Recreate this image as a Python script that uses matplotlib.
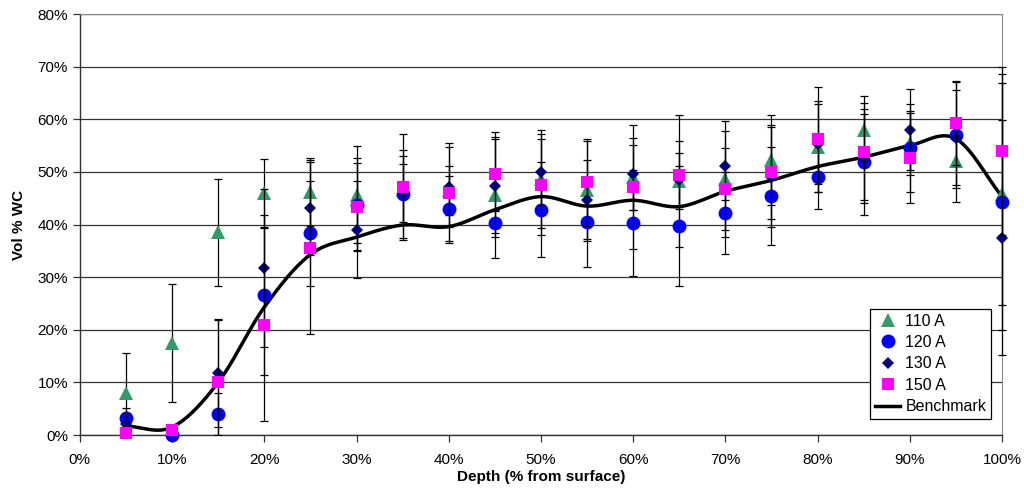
import numpy as np
import matplotlib
matplotlib.use("Agg")
import matplotlib.pyplot as plt
from matplotlib.patches import Rectangle
from matplotlib.ticker import FuncFormatter

plt.rcParams['font.family'] = ['Liberation Sans', 'DejaVu Sans']

# 深度（% from surface）
depth = [5, 10, 15, 20, 25, 30, 35, 40, 45, 50, 55, 60, 65, 70, 75, 80, 85, 90, 95, 100]

# 各电流下的 WC 体积分数及误差
wc_110 = [8.0, 17.5, 38.5, 46.0, 46.2, 45.7, 46.5, 46.5, 45.6, 48.7, 46.5, 49.0, 48.3, 48.6, 52.3, 54.8, 58.0, 55.5, 52.0, 45.8]
err_110 = [7.5, 11.2, 10.2, 6.4, 6.4, 9.3, 6.6, 4.7, 12.0, 9.3, 9.3, 6.2, 12.6, 11.0, 8.5, 8.7, 6.5, 6.1, 7.8, 21.0]

wc_120 = [3.2, 0.0, 4.0, 26.7, 38.3, 43.8, 45.8, 43.0, 40.2, 42.8, 40.5, 40.3, 39.7, 42.2, 45.5, 49.0, 51.9, 54.5, 57.0, 44.3]
err_120 = [2.0, 1.0, 4.0, 15.2, 9.9, 8.9, 8.4, 6.2, 2.5, 9.0, 8.5, 10.0, 11.4, 7.8, 9.3, 6.1, 10.0, 8.4, 10.0, 24.3]

wc_130 = [2.1, 0.5, 11.7, 31.7, 43.2, 39.0, 46.0, 47.2, 47.3, 50.0, 44.6, 49.6, 48.5, 51.2, 49.0, 55.3, 52.5, 58.0, 56.5, 37.5]
err_130 = [2.0, 1.0, 10.2, 15.0, 9.0, 9.2, 5.5, 7.6, 9.0, 6.3, 7.7, 6.8, 5.1, 6.6, 9.5, 7.6, 8.5, 7.7, 9.0, 22.3]

wc_150 = [0.3, 1.0, 10.0, 21.0, 35.5, 43.4, 47.1, 46.0, 49.6, 47.6, 48.0, 47.1, 49.4, 46.8, 50.0, 56.2, 53.8, 52.6, 59.3, 54.0]
err_150 = [1.5, 0.8, 12.0, 18.3, 16.3, 8.3, 10.1, 9.5, 7.0, 9.6, 8.3, 11.8, 6.5, 7.8, 8.9, 10.0, 9.2, 8.6, 8.0, 16.0]

benchmark = [1.7, 1.5, 10.0, 24.3, 34.3, 37.6, 39.9, 39.6, 42.8, 45.3, 43.5, 44.6, 43.4, 46.3, 48.4, 51.0, 52.8, 55.0, 56.3, 45.3]


def smooth_line(x, y, n=30):
    # Excel 风格的平滑线（Catmull-Rom 样条）
    x = np.asarray(x, float)
    y = np.asarray(y, float)
    px = np.concatenate([[2 * x[0] - x[1]], x, [2 * x[-1] - x[-2]]])
    py = np.concatenate([[2 * y[0] - y[1]], y, [2 * y[-1] - y[-2]]])
    xs, ys = [], []
    t = np.linspace(0, 1, n, endpoint=False)
    for i in range(1, len(px) - 2):
        for p, out in ((px, xs), (py, ys)):
            p0, p1, p2, p3 = p[i - 1], p[i], p[i + 1], p[i + 2]
            out.extend(0.5 * (2 * p1 + (-p0 + p2) * t
                              + (2 * p0 - 5 * p1 + 4 * p2 - p3) * t ** 2
                              + (-p0 + 3 * p1 - 3 * p2 + p3) * t ** 3))
    xs.append(x[-1])
    ys.append(y[-1])
    return np.array(xs), np.array(ys)


fig = plt.figure(figsize=(10.24, 4.93), dpi=100)
ax = fig.add_axes([0.078, 0.1176, 0.9005, 0.854])

# 误差线只在纵向裁剪，右端 100% 处完整显示
clip_rect = Rectangle((-0.02, 0), 1.04, 1, transform=ax.transAxes, visible=False)
ax.add_patch(clip_rect)

series = [
    (wc_110, err_110, "^", "#339966", 10, "110 A"),
    (wc_120, err_120, "o", "#0000FF", 10, "120 A"),
    (wc_130, err_130, "D", "#000080", 6.5, "130 A"),
    (wc_150, err_150, "s", "#FF00FF", 9, "150 A"),
]
handles = []
for i, (vals, errs, mk, col, ms, lab) in enumerate(series):
    eb = ax.errorbar(depth, vals, yerr=errs, fmt="none", ecolor="black", elinewidth=0.9,
                     capsize=3, capthick=0.9, zorder=3 + i)
    for art in eb.get_children():
        art.set_clip_path(clip_rect)
    h, = ax.plot(depth, vals, linestyle="none", marker=mk, color=col, markersize=ms,
                 markeredgewidth=0, label=lab, zorder=3.5 + i, clip_on=False)
    handles.append(h)

bx, by = smooth_line(depth, benchmark)
h, = ax.plot(bx, by, color="black", linewidth=2.5, label="Benchmark", zorder=2.5)
handles.append(h)

ax.set_xlim(0, 100)
ax.set_ylim(0, 80)
ax.set_xticks(range(0, 101, 10))
ax.set_yticks(range(0, 81, 10))
pct = FuncFormatter(lambda v, p: "%d%%" % v)
ax.xaxis.set_major_formatter(pct)
ax.yaxis.set_major_formatter(pct)
ax.grid(axis="y", color="#333333", linewidth=0.9)
ax.set_axisbelow(True)
ax.tick_params(axis="both", direction="out", length=5, width=0.9, labelsize=11, color="#333333")
ax.tick_params(axis="x", pad=8)

for side in ("top", "right"):
    ax.spines[side].set_color("#888888")
for side in ("left", "bottom"):
    ax.spines[side].set_color("#333333")
    ax.spines[side].set_linewidth(1.0)

ax.set_xlabel("Depth (% from surface)", fontsize=11, fontweight="bold", labelpad=2)
ax.set_ylabel("Vol % WC", fontsize=11, fontweight="bold", labelpad=8)

leg = ax.legend(handles=handles, loc="lower right", bbox_to_anchor=(0.988, 0.038), fontsize=11.5,
                fancybox=False, framealpha=1, edgecolor="black",
                borderpad=0.3, labelspacing=0.4, handlelength=1.6, handletextpad=0.3,
                borderaxespad=0.0)
leg.get_frame().set_linewidth(0.9)
leg.set_zorder(10)

fig.savefig("out.png", dpi=100)
